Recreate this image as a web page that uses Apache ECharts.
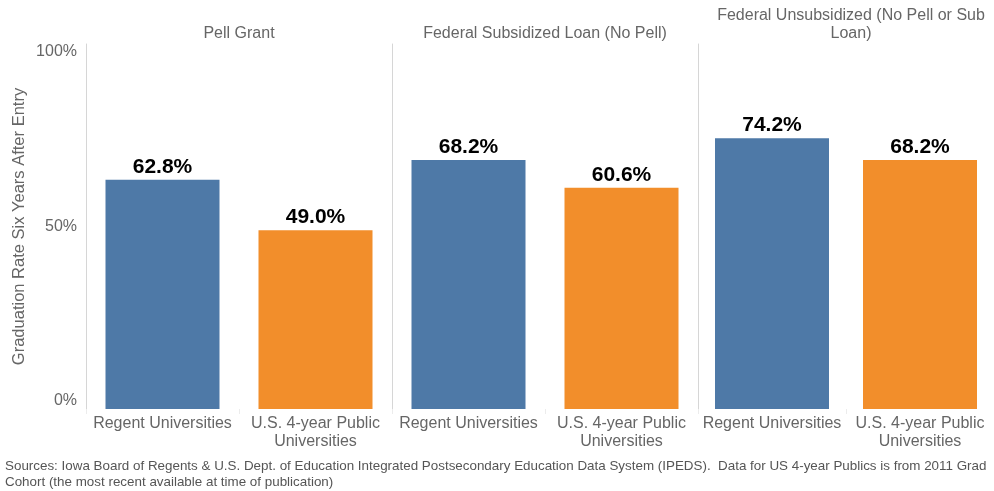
<!DOCTYPE html>
<html>
<head>
<meta charset="utf-8">
<script src="https://cdn.jsdelivr.net/npm/echarts@6/dist/echarts.min.js"></script>
<style>
  html, body { margin: 0; padding: 0; background: #fff; }
  #chart { width: 994px; height: 491px; }
</style>
</head>
<body>
<div id="chart"></div>
<script>
const panels = ['Pell Grant', 'Federal Subsidized Loan (No Pell)', 'Federal Unsubsidized (No Pell or Sub\nLoan)'];
const categories = ['Regent Universities', 'U.S. 4-year Public\nUniversities'];
const regentValues = [62.8, 68.2, 74.2];
const usPublicValues = [49.0, 60.6, 68.2];
const yTicks = [0, 50, 100];
const yAxisTitle = 'Graduation Rate Six Years After Entry';
const sourceText = 'Sources: Iowa Board of Regents & U.S. Dept. of Education Integrated Postsecondary Education Data System (IPEDS).  Data for US 4-year Publics is from 2011 Grad\nCohort (the most recent available at time of publication)';

const colors = ['#4e79a7', '#f28e2b'];
const FONT = '"Liberation Sans", Arial, sans-serif';
const gridLeft = 86, panelW = 306, gridTop = 44, gridBottom = 82;

const chart = echarts.init(document.getElementById('chart'), null, { renderer: 'canvas' });

const grids = [], xAxes = [], yAxes = [], series = [], graphics = [];
panels.forEach((p, i) => {
  grids.push({ left: gridLeft + panelW * i, top: gridTop, width: panelW, bottom: gridBottom, containLabel: false });
  xAxes.push({
    type: 'category', gridIndex: i, data: categories,
    axisLine: { show: false },
    axisTick: { show: true, length: 5, lineStyle: { color: '#ececec' } },
    axisLabel: { color: '#666', fontFamily: FONT, fontSize: 16, lineHeight: 18, margin: 6, interval: 0 }
  });
  yAxes.push({
    type: 'value', gridIndex: i, min: yTicks[0], max: yTicks[yTicks.length - 1], interval: yTicks[1] - yTicks[0],
    name: i === 0 ? yAxisTitle : '', nameLocation: 'middle', nameGap: 58,
    nameTextStyle: { color: '#666', fontFamily: FONT, fontSize: 16.5 },
    axisLine: { show: true, lineStyle: { color: '#d6d6d6', width: 1 } },
    axisTick: { show: false },
    splitLine: { show: false },
    axisLabel: {
      show: i === 0, color: '#666', fontFamily: FONT, fontSize: 16, margin: 9,
      formatter: v => v + '%',
      verticalAlignMinLabel: 'bottom', verticalAlignMaxLabel: 'top'
    }
  });
  series.push({
    type: 'bar', xAxisIndex: i, yAxisIndex: i, barWidth: 114,
    data: [regentValues[i], usPublicValues[i]].map((v, k) => ({ value: v, itemStyle: { color: colors[k] } })),
    label: {
      show: true, position: 'top', distance: 2, color: '#000', fontFamily: FONT, fontSize: 21, fontWeight: 'bold',
      formatter: p => p.value.toFixed(1) + '%'
    }
  });
  graphics.push({
    type: 'text', x: gridLeft + panelW * i + panelW / 2, y: 43,
    style: { text: p, textAlign: 'center', textVerticalAlign: 'bottom', fill: '#666', font: '16px ' + FONT, lineHeight: 18 }
  });
});

graphics.push({
  type: 'text', x: 5, y: 458,
  style: { text: sourceText, fill: '#555', font: '13.4px ' + FONT, lineHeight: 16, textVerticalAlign: 'top' }
});

chart.setOption({
  animation: false,
  backgroundColor: '#fff',
  grid: grids, xAxis: xAxes, yAxis: yAxes, series: series,
  graphic: graphics
});
</script>
</body>
</html>
